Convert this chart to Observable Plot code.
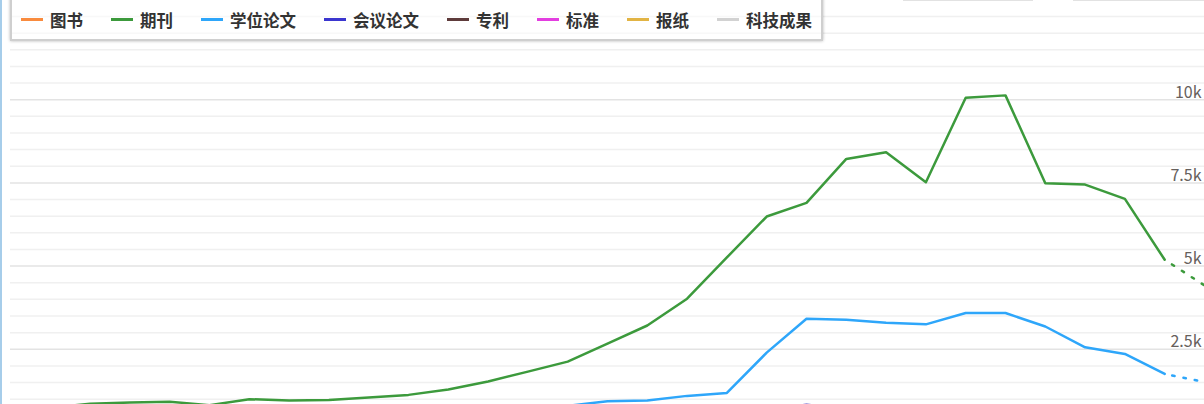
<!DOCTYPE html>
<html>
<head>
<meta charset="utf-8">
<script src="https://cdn.jsdelivr.net/npm/d3@7"></script>
<script src="https://cdn.jsdelivr.net/npm/@observablehq/plot@0.6"></script>
<style>
  body { margin: 0; background: #fff; }
  #wrap { position: relative; width: 1204px; height: 404px; overflow: hidden;
          font-family: "Noto Sans CJK SC", "Noto Sans", sans-serif; }
  #leftbar { position: absolute; left: 0; top: 0; width: 2px; height: 404px; background: #a6cdea; }
  .topline { position: absolute; top: 0; height: 1px; background: #e2e2e2; }
  #legend { position: absolute; left: 10px; top: -3px; width: 813px; height: 44px; box-sizing: border-box;
            border: 2px solid #cfcfcf; box-shadow: 0 0 3px rgba(0,0,0,0.28);
            background: rgba(255,255,255,0.55);
            display: flex; align-items: center; padding-left: 9px; padding-top: 1px; gap: 28px; }
  .item { display: flex; align-items: center; font-size: 16.5px; font-weight: 600; color: #333; white-space: nowrap; }
  .sw { width: 22px; height: 3px; margin-right: 7px; }
  #chart svg { display: block; }
</style>
</head>
<body>
<div id="wrap">
  <div id="chart"></div>
  <div id="leftbar"></div>
  <div class="topline" style="left:903px;width:130px"></div>
  <div class="topline" style="left:1073px;width:131px"></div>
  <div id="legend"></div>
</div>
<script>
// ---- data ----
const seriesNames  = ["图书", "期刊", "学位论文", "会议论文", "专利", "标准", "报纸", "科技成果"];
const seriesColors = ["#f98b3e", "#3c9a3c", "#2ea6fa", "#3b36cf", "#5e3b3b", "#e33ee0", "#e2b444", "#d2d2d2"];

const years = [1996, 1997, 1998, 1999, 2000, 2001, 2002, 2003, 2004, 2005,
               2006, 2007, 2008, 2009, 2010, 2011, 2012, 2013, 2014, 2015,
               2016, 2017, 2018, 2019, 2020, 2021, 2022, 2023, 2024];
const journal = [750, 860, 900, 925, 820, 1000, 960, 975, 1050, 1130,
                 1290, 1530, 1830, 2130, 2670, 3215, 4020, 5260, 6490, 6900,
                 8220, 8420, 7520, 10060, 10130, 7490, 7450, 7020, 5190];

const thesisYears = [2009, 2010, 2011, 2012, 2013, 2014, 2015, 2016, 2017, 2018,
                     2019, 2020, 2021, 2022, 2023, 2024];
const thesis = [800, 940, 960, 1100, 1190, 2400, 3420, 3390, 3300, 3250,
                3590, 3590, 3185, 2560, 2360, 1760];

const confYears = [2014, 2015, 2016];
const conference = [600, 850, 650];

const predYear = 2025;
const journalPred = 4420;
const thesisPred = 1520;

const gridValues = [1000, 1500, 2000, 2500, 3000, 3500, 4000, 4500, 5000, 5500, 6000, 6500,
                    7000, 7500, 8000, 8500, 9000, 9500, 10000, 10500, 11000, 11500, 12000, 12500];
const tickValues = [2500, 5000, 7500, 10000];
const tickLabels = ["2.5k", "5k", "7.5k", "10k"];

// ---- build tables ----
const journalRows = years.map((y, i) => ({year: y, value: journal[i]}));
const thesisRows = thesisYears.map((y, i) => ({year: y, value: thesis[i]}));
const confRows = confYears.map((y, i) => ({year: y, value: conference[i]}));
const journalPredRows = [journalRows[journalRows.length - 1], {year: predYear, value: journalPred}];
const thesisPredRows = [thesisRows[thesisRows.length - 1], {year: predYear, value: thesisPred}];
const ticks = tickValues.map((v, i) => ({value: v, label: tickLabels[i]}));
const minorGrid = gridValues.filter(v => !tickValues.includes(v));

const chart = Plot.plot({
  width: 1204,
  height: 404,
  marginTop: 0, marginBottom: 0, marginLeft: 10, marginRight: 0,
  x: {domain: [1995, 2025], axis: null},
  y: {domain: [841, 12981], axis: null},
  style: {background: "transparent", fontFamily: "'Noto Sans CJK SC', 'Noto Sans', sans-serif"},
  marks: [
    Plot.ruleY(minorGrid, {stroke: "#f0f0f0", strokeWidth: 1.5}),
    Plot.ruleY(tickValues, {stroke: "#e3e3e3", strokeWidth: 1.5}),
    Plot.text(ticks, {y: "value", text: "label", frameAnchor: "right", textAnchor: "end",
                      lineAnchor: "bottom", dx: -3, dy: -2, fill: "#66605c", fontSize: 16}),
    Plot.line(confRows, {x: "year", y: "value", stroke: "#8c86d8", strokeWidth: 2, clip: true}),
    Plot.line(thesisRows, {x: "year", y: "value", stroke: seriesColors[2], strokeWidth: 2.5, clip: true}),
    Plot.line(thesisPredRows, {x: "year", y: "value", stroke: seriesColors[2], strokeWidth: 2.5,
                               strokeDasharray: "2.5,9", strokeDashoffset: 3.9, clip: true}),
    Plot.line(journalRows, {x: "year", y: "value", stroke: seriesColors[1], strokeWidth: 2.5, clip: true}),
    Plot.line(journalPredRows, {x: "year", y: "value", stroke: seriesColors[1], strokeWidth: 2.5,
                                strokeDasharray: "2.5,9.3", strokeDashoffset: 3.2, clip: true})
  ]
});
document.getElementById("chart").appendChild(chart);

// ---- legend ----
const legend = document.getElementById("legend");
seriesNames.forEach((name, i) => {
  const item = document.createElement("div");
  item.className = "item";
  const sw = document.createElement("span");
  sw.className = "sw";
  sw.style.background = seriesColors[i];
  const t = document.createElement("span");
  t.textContent = name;
  item.appendChild(sw);
  item.appendChild(t);
  legend.appendChild(item);
});
</script>
</body>
</html>
